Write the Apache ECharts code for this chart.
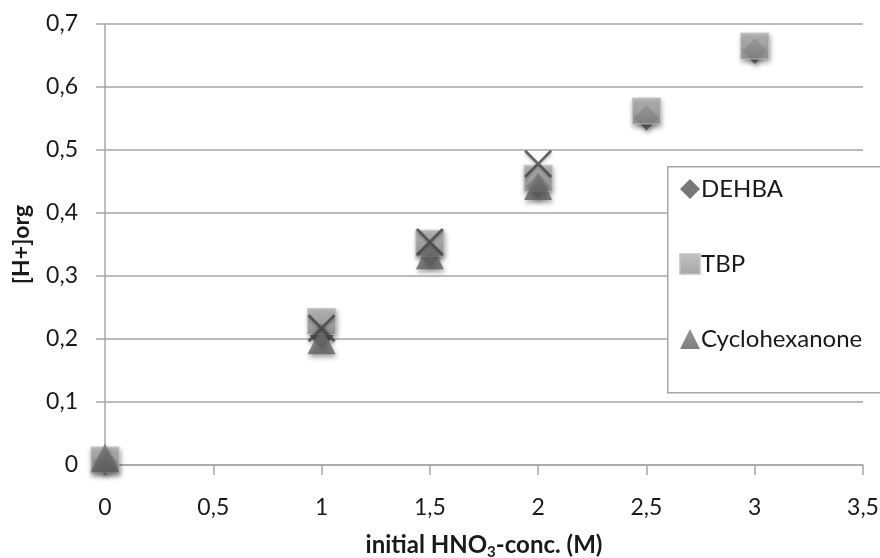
<!DOCTYPE html>
<html>
<head>
<meta charset="utf-8">
<script src="https://cdn.jsdelivr.net/npm/echarts@6/dist/echarts.min.js"></script>
<style>
html,body{margin:0;padding:0;background:#fff;}
#c{width:880px;height:558px;}
</style>
</head>
<body>
<div id="c"></div>
<script>
// ---- data ----
var xDEHBA = [0, 1, 1.5, 2, 2.5, 3];
var yDEHBA = [0.005, 0.205, 0.335, 0.442, 0.551, 0.657];
var xTBP = [0, 1, 1.5, 2, 2.5, 3];
var yTBP = [0.008, 0.228, 0.352, 0.455, 0.562, 0.665];
var xCyclo = [0, 1, 1.5, 2];
var yCyclo = [0.012, 0.198, 0.333, 0.443];
var xExtra = [1, 1.5, 2];
var yExtra = [0.217, 0.354, 0.478];
var seriesNames = ['DEHBA', 'TBP', 'Cyclohexanone'];

function pairs(xs, ys){ return xs.map(function(x,i){ return [x, ys[i]]; }); }
function fmt(v){ return String(+(+v).toFixed(1)).replace('.', ','); }

var FONT = 'Lato';
var chart = echarts.init(document.getElementById('c'), null, {renderer:'canvas'});
var shadow = {shadowBlur:5, shadowColor:'rgba(0,0,0,0.45)', shadowOffsetY:3, shadowOffsetX:1};
var crossPath = 'path://M0,0.7L0.7,0L5,4.3L9.3,0L10,0.7L5.7,5L10,9.3L9.3,10L5,5.7L0.7,10L0,9.3L4.3,5Z';

chart.setOption({
  animation:false,
  backgroundColor:'#fff',
  textStyle:{fontFamily:FONT},
  grid:{left:105, right:17, top:24, bottom:93, containLabel:false, outerBoundsMode:'none'},
  xAxis:{
    type:'value', min:0, max:3.5, interval:0.5,
    axisLine:{show:true, lineStyle:{color:'#a6a6a6', width:1.5}},
    axisTick:{show:true, length:10, lineStyle:{color:'#a6a6a6', width:1.5}},
    splitLine:{show:false},
    axisLabel:{margin:31, fontSize:23, color:'#1a1a1a', fontFamily:FONT, formatter:fmt},
    name:'{a|initial HNO}{s|3}{a|-conc. (M)}',
    nameLocation:'middle', nameGap:65,
    nameTextStyle:{
      rich:{
        a:{fontSize:24, fontWeight:'bold', fontFamily:FONT, color:'#1a1a1a', lineHeight:30, verticalAlign:'middle'},
        s:{fontSize:15, fontWeight:'bold', fontFamily:FONT, color:'#1a1a1a', lineHeight:16, verticalAlign:'bottom'}
      }
    }
  },
  yAxis:{
    type:'value', min:0, max:0.7, interval:0.1,
    axisLine:{show:true, lineStyle:{color:'#a6a6a6', width:1.5}},
    axisTick:{show:true, length:9, lineStyle:{color:'#a6a6a6', width:1.5}},
    splitLine:{show:true, lineStyle:{color:'#a6a6a6', width:1.5}},
    axisLabel:{margin:27, fontSize:23, color:'#1a1a1a', fontFamily:FONT, formatter:fmt},
    name:'[H+]org', nameLocation:'middle', nameGap:72,
    nameTextStyle:{fontSize:23, fontWeight:'bold', color:'#1a1a1a', fontFamily:FONT}
  },
  legend:{
    data:seriesNames.map(function(n,i){return {name:n, icon:['diamond','rect','triangle'][i]};}),
    orient:'vertical', left:674, top:172, itemGap:51, z:10,
    itemWidth:20, itemHeight:20,
    textStyle:{fontSize:24, color:'#1a1a1a', fontFamily:FONT, lineHeight:22, padding:[0,0,0,-4]},
    selectedMode:false
  },
  graphic:[{
    type:'rect', left:667, top:166, z:5,
    shape:{width:220, height:226},
    style:{fill:'#fff', stroke:'#a6a6a6', lineWidth:1.5}
  }],
  series:[
    {name:'DEHBA', type:'scatter', data:pairs(xDEHBA,yDEHBA), symbol:'diamond', symbolSize:[24,26], z:3,
     itemStyle:Object.assign({color:'#555555'}, shadow)},
    {name:'TBP', type:'scatter', data:pairs(xTBP,yTBP), symbol:'rect', symbolSize:[28,26], z:4,
     itemStyle:Object.assign({color:new echarts.graphic.LinearGradient(0,0,0,1,[{offset:0,color:'#b4b4b4'},{offset:1,color:'#8e8e8e'}]), borderColor:'#c4c4c4', borderWidth:1}, shadow)},
    {name:'Cyclohexanone', type:'scatter', data:pairs(xCyclo,yCyclo), symbol:'triangle', symbolSize:[28,28], z:4.5,
     itemStyle:Object.assign({color:new echarts.graphic.LinearGradient(0,0,0,1,[{offset:0,color:'#7a7a7a'},{offset:1,color:'#5f5f5f'}])}, shadow)},
    {name:'extra', type:'scatter', data:pairs(xExtra,yExtra), symbol:crossPath, symbolSize:[28,28], z:4.8,
     itemStyle:{color:'#454545', shadowBlur:3, shadowColor:'rgba(0,0,0,0.3)', shadowOffsetY:2}}
  ]
});
</script>
</body>
</html>
